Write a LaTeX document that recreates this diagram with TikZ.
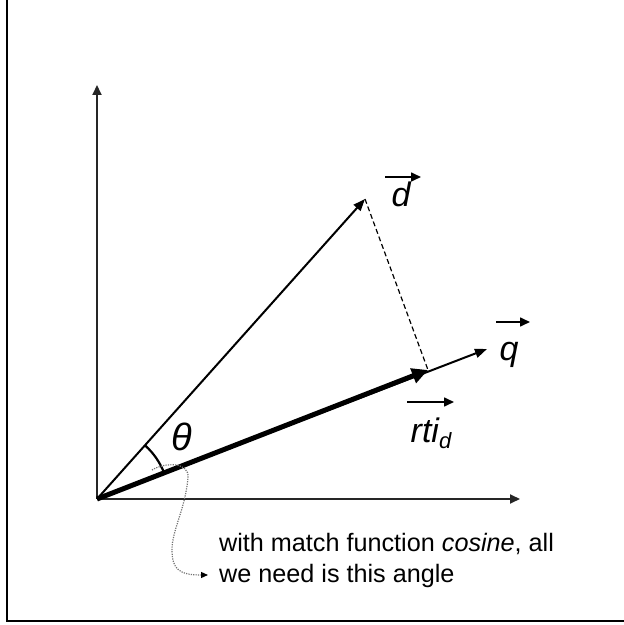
\documentclass[tikz,border=0pt]{standalone}
\usepackage{fontspec}
\setmainfont{Liberation Sans}
\usetikzlibrary{arrows.meta,calc}
\tikzset{
  axis/.style={line width=1.8pt,draw=black!85,-{Triangle[length=10pt,width=9pt]}},
  vec/.style={line width=2pt,-{Triangle[length=12pt,width=9pt]}},
  thickvec/.style={line width=5pt,-{Triangle[length=16pt,width=15pt]}},
  projline/.style={line width=1.2pt,dash pattern=on 5pt off 3pt},
  note/.style={draw=black!55,line width=1.2pt,dash pattern=on 1.2pt off 1.2pt,-{Triangle[length=7pt,width=6pt,color=black]}},
  lab/.style={inner sep=0pt,font=\fontsize{34}{38}\selectfont\itshape},
  txt/.style={inner sep=0pt,anchor=base west,font=\fontsize{25.2}{30}\selectfont},
  overarrow/.style={line width=1.6pt,-{Triangle[length=10pt,width=9pt]}},
}
\begin{document}
\begin{tikzpicture}[x=1pt,y=1pt]
\useasboundingbox (0,0) rectangle (624,625);
\clip (0,0) rectangle (624,625);
\draw[line width=2pt] (7,4) rectangle (640,626);
\coordinate (O) at (97,126);
\coordinate (ytip) at (97,540);
\coordinate (xtip) at (520,126);
\coordinate (dtip) at (365,426);
\coordinate (qtip) at (487,276);
\coordinate (ptip) at (428,255);
\draw[axis] (O) -- (ytip);
\draw[axis] (O) -- (xtip);
\draw[vec] (O) -- (dtip);
\draw[vec] (O) -- (qtip);
\draw[projline] (dtip) -- (ptip);
\draw[thickvec] (O) -- (ptip);
\draw[line width=2.2pt] ($(O)+(21:72)$) arc[start angle=21,end angle=48,radius=72pt];
\node[lab,font=\fontsize{38}{40}\selectfont\itshape] (theta) at (182,188) {θ};
% labels
\node[lab,anchor=base] (dlab) at (401,418) {d};
\coordinate (da) at (385,448);
\coordinate (db) at (421,448);
\draw[overarrow] (da) -- (db);
\node[lab,anchor=base] (qlab) at (509,264) {q};
\coordinate (qa) at (496,303);
\coordinate (qb) at (530,303);
\draw[overarrow] (qa) -- (qb);
\node[lab,anchor=base] (rlab) at (431,182) {rti\raisebox{-6pt}{\fontsize{22}{24}\selectfont d}};
\coordinate (ra) at (407,223);
\coordinate (rb) at (454,223);
\draw[overarrow] (ra) -- (rb);
% note
\node[txt] (t1) at (219,73) {with match function \textit{cosine}, all};
\node[txt] (t2) at (219,42) {we need is this angle};
\coordinate (nstart) at (152,155);
\coordinate (nend) at (208,50);
\draw[note] (nstart) .. controls (165,163) and (190,163) .. (188,147)
  .. controls (185,115) and (172,95) .. (172,75)
  .. controls (172,55) and (180,50) .. (nend);
\end{tikzpicture}
\end{document}
